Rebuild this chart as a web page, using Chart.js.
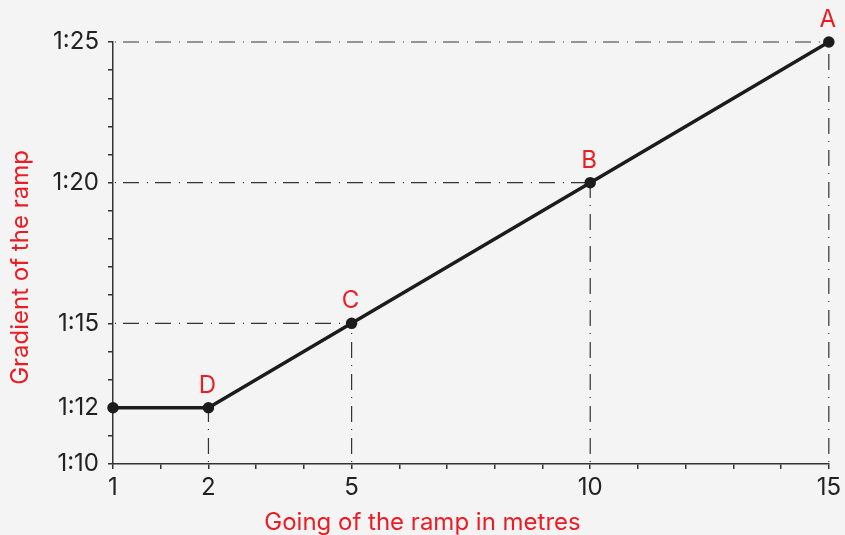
<!DOCTYPE html>
<html>
<head>
<meta charset="utf-8">
<script src="https://cdn.jsdelivr.net/npm/chart.js@4"></script>
<style>
    html, body { margin: 0; padding: 0; background: #f4f4f4; }
    #wrap { width: 845px; height: 535px; }
</style>
</head>
<body>
<div id="wrap"><canvas id="myChart" width="845" height="535"></canvas></div>
<script>
// going of the ramp (m) and gradient (1:n)
const going = [1, 2, 5, 10, 15]
const gradient = [12, 12, 15, 20, 25]
const pontos = ['', 'D', 'C', 'B', 'A']
const xTicks = [1, 2, 5, 10, 15]
const yTicks = [10, 12, 15, 20, 25]

const vermelho = '#ec1c24'
const escuro = '#1c1c1c'
const fonte = 'Inter, "Noto Sans", sans-serif'

// the axis is broken at the start: going 1 sits at position 0
function posicao(g) {
    return g === going[0] ? 0 : g
}
function rotuloX(v) {
    for (let i = 0; i < xTicks.length; i++) {
        if (posicao(xTicks[i]) === v) return String(xTicks[i])
    }
    return ''
}

let linhasRef = {
    id: 'linhasRef',
    beforeDatasetsDraw(chart) {
        const c = chart.ctx
        const x = chart.scales.x
        const y = chart.scales.y
        c.save()
        c.strokeStyle = '#333'
        c.lineWidth = 1.2
        c.setLineDash([16, 8, 1, 7])
        for (let i = 1; i < going.length; i++) {
            const px = x.getPixelForValue(posicao(going[i]))
            const py = y.getPixelForValue(gradient[i])
            if (gradient[i] !== gradient[0]) {
                c.lineDashOffset = -10
                c.beginPath()
                c.moveTo(x.left, py)
                c.lineTo(px, py)
                c.stroke()
            }
            c.lineDashOffset = -10
            c.beginPath()
            c.moveTo(px, y.bottom)
            c.lineTo(px, py)
            c.stroke()
        }
        c.restore()
    },
    afterDraw(chart) {
        const c = chart.ctx
        const x = chart.scales.x
        const y = chart.scales.y
        c.save()
        c.fillStyle = vermelho
        c.font = '24px ' + fonte
        c.textAlign = 'center'
        c.textBaseline = 'alphabetic'
        for (let i = 0; i < going.length; i++) {
            if (!pontos[i]) continue
            c.fillText(pontos[i], x.getPixelForValue(posicao(going[i])) - 1, y.getPixelForValue(gradient[i]) - 15)
        }
        c.textBaseline = 'middle'
        c.fillText('Going of the ramp in metres', chart.width / 2, 523)
        c.translate(21, chart.height / 2)
        c.rotate(-Math.PI / 2)
        c.fillText('Gradient of the ramp', 0, 0)
        c.restore()
    }
}

const ctx = document.getElementById('myChart')

new Chart(ctx, {
    type: 'line',
    data: {
        datasets: [{
            data: going.map((g, i) => ({ x: posicao(g), y: gradient[i] })),
            borderColor: escuro,
            backgroundColor: escuro,
            borderWidth: 3.5,
            pointRadius: 4,
            pointHoverRadius: 4,
            tension: 0,
            clip: false
        }]
    },
    options: {
        responsive: false,
        animation: false,
        events: [],
        layout: {
            padding: { top: 42, right: 15, left: 0, bottom: 0 }
        },
        scales: {
            x: {
                type: 'linear',
                min: 0,
                max: 15,
                afterFit: s => { s.height = 71 },
                border: { color: '#333', width: 1.5 },
                grid: { drawOnChartArea: false, tickLength: 5, color: '#333', lineWidth: 1.5 },
                ticks: {
                    stepSize: 1,
                    autoSkip: false,
                    maxRotation: 0,
                    padding: 4,
                    color: '#222',
                    font: { family: fonte, size: 24 },
                    callback: v => rotuloX(v)
                }
            },
            y: {
                min: 10,
                max: 25,
                afterFit: s => { s.width = 113 },
                border: { color: '#333', width: 1.5 },
                grid: { drawOnChartArea: false, tickLength: 5, color: '#333', lineWidth: 1.5 },
                ticks: {
                    stepSize: 1,
                    autoSkip: false,
                    padding: 9,
                    color: '#222',
                    font: { family: fonte, size: 24 },
                    callback: v => yTicks.includes(v) ? '1:' + v : ''
                }
            }
        },
        plugins: {
            legend: { display: false },
            tooltip: { enabled: false }
        }
    },
    plugins: [linhasRef]
});
</script>
</body>
</html>
